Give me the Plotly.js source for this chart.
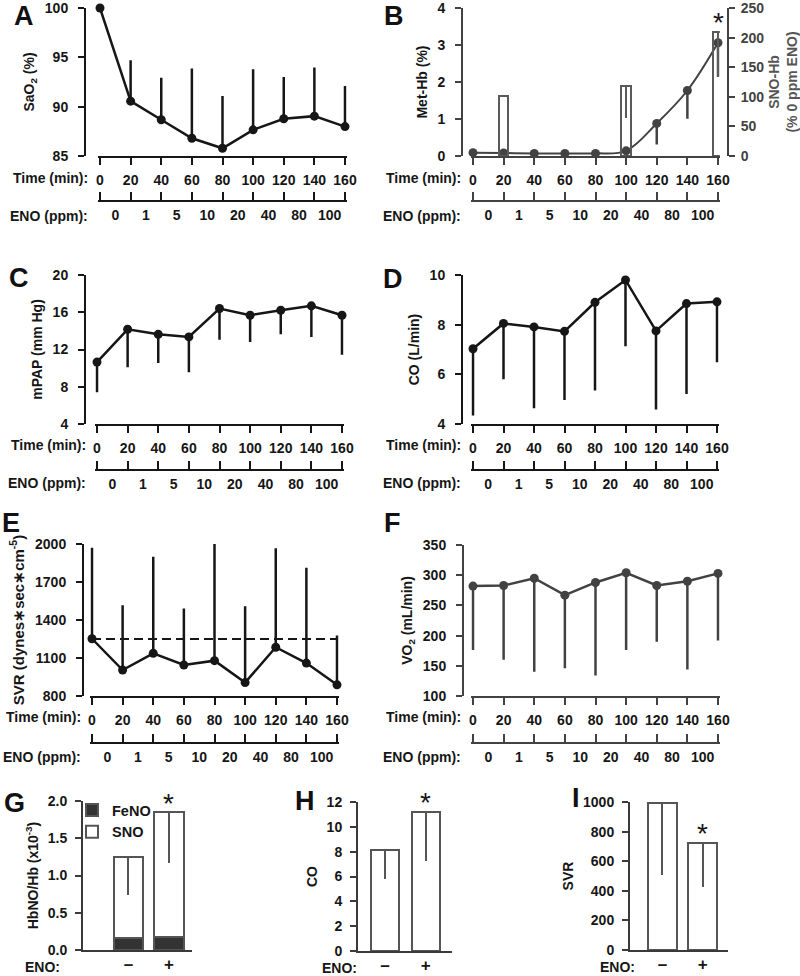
<!DOCTYPE html>
<html>
<head>
<meta charset="utf-8">
<script src="https://cdn.plot.ly/plotly-3.0.1.min.js"></script>
<style>html,body{margin:0;padding:0;background:#fff}#chart{width:800px;height:976px}</style>
</head>
<body>
<div id="chart"></div>
<script>
// ---------- data ----------
const timeMin = [0, 20, 40, 60, 80, 100, 120, 140, 160];
const enoPpm = ['0', '1', '5', '10', '20', '40', '80', '100'];

const saO2 = [100, 90.56, 88.67, 86.8, 85.78, 87.65, 88.77, 89.04, 87.98];
const saO2SdUp = [0, 4.14, 4.27, 7.06, 5.29, 6.14, 4.23, 4.92, 4.11];

const metHb = [0.09, 0.08, 0.07, 0.07, 0.07, 0.14, 0.88, 1.77, 3.06];
const metHbSdDown = [0, 0, 0, 0, 0, 0, 0.57, 0.76, 0.92];
const snoHbTime = [20, 100, 160];
const snoHb = [102, 119, 209];
const snoHbSdDown = [0, 54, 76];

const mpap = [10.65, 14.17, 13.63, 13.35, 16.4, 15.68, 16.22, 16.69, 15.68];
const mpapSdDown = [3.24, 4.07, 3.09, 3.78, 3.34, 2.88, 2.59, 3.34, 4.24];

const coL = [7.03, 8.05, 7.91, 7.73, 8.9, 9.8, 7.75, 8.85, 8.92];
const coSdDown = [2.69, 2.25, 3.28, 2.76, 3.55, 2.67, 3.17, 3.64, 2.43];

const svr = [1252, 1005, 1137, 1045, 1079, 906, 1185, 1060, 888];
const svrSdUp = [719, 511, 763, 445, 921, 602, 781, 752, 389];
const svrBaseline = 1250;

const vo2 = [282, 283, 295, 267, 288, 304, 283, 290, 303];
const vo2SdDown = [106, 123, 155, 121, 154, 128, 93, 146, 111];

const enoGroup = ['\u2013', '+'];
const hbnoFeNO = [0.16, 0.17];
const hbnoSNO = [1.09, 1.68];
const hbnoSdDown = [0.51, 0.68];
const coGroup = [8.1, 11.2];
const coGroupSdDown = [2.33, 3.95];
const svrGroup = [990, 720];
const svrGroupSdDown = [480, 293];

// ---------- helpers ----------
const W = 800, H = 976;
const px = v => v / W, py = v => 1 - v / H;
const FONT = '"Liberation Sans", Arial, Helvetica, sans-serif';
const INK = '#161616', GRAY = '#424242', EDGE = '#555555';
const tf = (s, c, w) => ({family: FONT, size: s || 14, color: c || INK, weight: w || 'bold'});
const axName = (k, n) => k + 'axis' + (n === 1 ? '' : n);
const axRef = (k, n) => k + (n === 1 ? '' : n);
const zeros = arr => arr.map(() => 0);
const enoMid = timeMin.slice(1).map((t, i) => (t + timeMin[i]) / 2);
const common = {showgrid: false, zeroline: false, fixedrange: true, ticklabeloverflow: 'allow'};
const PAD = 1.2; // tiny range padding (data units) so edge error bars are not clipped

const layout = {
  width: W, height: H,
  margin: {l: 0, r: 0, t: 0, b: 0, pad: 0},
  paper_bgcolor: '#ffffff', plot_bgcolor: 'rgba(0,0,0,0)',
  barmode: 'stack', hovermode: false,
  font: {family: FONT, color: INK},
  showlegend: true,
  legend: {x: px(72), y: py(794), xanchor: 'left', yanchor: 'top', font: tf(14.5),
           bgcolor: 'rgba(0,0,0,0)', traceorder: 'normal', itemwidth: 30, tracegroupgap: 0},
  annotations: []
};
const data = [];

function ann(text, x, y, o) {
  layout.annotations.push(Object.assign({text, x, y, xref: 'paper', yref: 'paper', showarrow: false,
    font: tf(14), xanchor: 'center', yanchor: 'middle'}, o || {}));
}

function linePanel(p) {
  const c = p.color;
  const ppu = (p.x1 - p.x0) / 160;
  const dom = [px(p.x0 - PAD * ppu), px(p.x1 + PAD * ppu)];
  const xr = [-PAD, 160 + PAD];
  layout[axName('x', p.xi)] = Object.assign({
    domain: dom, range: xr, anchor: axRef('y', p.yi),
    tickmode: 'array', tickvals: timeMin, ticktext: timeMin.map(String),
    ticks: 'outside', ticklen: 7, tickwidth: 2, tickcolor: c,
    showline: true, linewidth: 2, linecolor: c, tickfont: tf(14), ticklabelstandoff: 3
  }, common);
  layout[axName('y', p.yi)] = Object.assign({
    domain: [py(p.yBot), py(p.yTop)], range: p.yRange, anchor: 'free', position: px(p.yPx),
    tickmode: 'array', tickvals: p.yTicks,
    ticks: 'outside', ticklen: 6, tickwidth: 2, tickcolor: c,
    showline: true, linewidth: 2, linecolor: c, tickfont: tf(14), ticklabelstandoff: 7,
    title: {text: p.title, font: tf(p.titleSize || 14), standoff: p.ts || 6}
  }, common);
  // ENO schedule axis: tick marks (pointing up) at the time boundaries
  layout[axName('x', p.ei)] = Object.assign({
    domain: dom, range: xr, overlaying: axRef('x', p.xi), anchor: 'free', position: py(p.ePy),
    tickmode: 'array', tickvals: timeMin, ticks: 'inside', ticklen: 8, tickwidth: 2, tickcolor: c,
    showticklabels: false, showline: true, linewidth: 2, linecolor: c
  }, common);
  // ENO schedule axis: labels between boundaries
  layout[axName('x', p.li)] = Object.assign({
    domain: dom, range: xr, overlaying: axRef('x', p.xi), anchor: 'free', position: py(p.ePy),
    tickmode: 'array', tickvals: enoMid, ticktext: enoPpm, ticks: '', showline: false,
    tickfont: tf(14), ticklabelstandoff: 4
  }, common);
  [p.ei, p.li].forEach(n => data.push({type: 'scatter', x: timeMin, y: p.y, xaxis: axRef('x', n),
    yaxis: axRef('y', p.yi), mode: 'none', hoverinfo: 'skip', showlegend: false}));
  data.push({
    type: 'scatter', x: timeMin, y: p.y, xaxis: axRef('x', p.xi), yaxis: axRef('y', p.yi),
    mode: 'lines+markers', line: {color: c, width: p.lw || 2.5, shape: p.shape || 'linear'},
    marker: {size: 9, color: c}, cliponaxis: false, showlegend: false, hoverinfo: 'skip',
    error_y: {type: 'data', symmetric: false, array: p.up || zeros(p.y), arrayminus: p.down || zeros(p.y),
      width: 0, thickness: 2.5, color: c}
  });
  ann('Time (min):', px(p.labRight), py(p.timeLabPy), {xanchor: 'right'});
  ann('ENO (ppm):', px(p.labRight), py(p.enoLabPy), {xanchor: 'right'});
}

function barPanel(p) {
  layout[axName('x', p.xi)] = Object.assign({
    domain: [px(p.x0), px(p.x1)], range: p.xRange, type: 'category', categoryarray: enoGroup,
    anchor: axRef('y', p.yi), ticks: '', showline: true, linewidth: 2, linecolor: '#3a3a3a',
    tickfont: tf(17), ticklabelstandoff: -2
  }, common);
  layout[axName('y', p.yi)] = Object.assign({
    domain: [py(p.yBot), py(p.yTop)], range: p.yRange, anchor: axRef('x', p.xi),
    tickmode: 'array', tickvals: p.yTicks, tickformat: p.fmt || '',
    ticks: 'outside', ticklen: 6, tickwidth: 2, tickcolor: '#3a3a3a',
    showline: true, linewidth: 2, linecolor: '#3a3a3a', tickfont: tf(14), ticklabelstandoff: 5,
    title: {text: p.title, font: tf(14), standoff: p.ts || 6}
  }, common);
}

// ---------- panels A-F ----------
linePanel({xi: 1, ei: 2, li: 3, yi: 1, yPx: 85, x0: 100, x1: 345, yTop: 8, yBot: 156,
  yRange: [85, 100], yTicks: [85, 90, 95, 100], ePy: 201, timeLabPy: 178, enoLabPy: 216, labRight: 90,
  color: INK, title: 'SaO<sub>2</sub> (%)', y: saO2, up: saO2SdUp});

linePanel({xi: 4, ei: 5, li: 6, yi: 2, yPx: 462, x0: 473, x1: 718, yTop: 8, yBot: 156,
  yRange: [0, 4], yTicks: [0, 1, 2, 3, 4], ePy: 201, timeLabPy: 178, enoLabPy: 216, labRight: 463,
  color: GRAY, title: 'Met-Hb (%)', y: metHb, down: metHbSdDown, shape: 'spline', lw: 2});
layout.yaxis3 = Object.assign({
  overlaying: 'y2', side: 'right', anchor: 'free', position: px(728), range: [0, 250],
  tickmode: 'array', tickvals: [0, 50, 100, 150, 200, 250],
  ticks: 'outside', ticklen: 6, tickwidth: 2, tickcolor: GRAY,
  showline: true, linewidth: 2, linecolor: GRAY, tickfont: tf(14, GRAY), ticklabelstandoff: 3,
  title: {text: 'SNO-Hb<br>(% 0 ppm ENO)', font: tf(14, '#555'), standoff: 8}
}, common);
data.push({type: 'bar', x: snoHbTime, y: snoHb, xaxis: 'x4', yaxis: 'y3', width: 6.2,
  marker: {color: 'rgba(0,0,0,0)', line: {color: '#5a5a5a', width: 2}}, cliponaxis: false,
  showlegend: false, hoverinfo: 'skip',
  error_y: {type: 'data', symmetric: false, array: zeros(snoHb), arrayminus: snoHbSdDown,
    width: 0, thickness: 2, color: '#5a5a5a'}});
ann('*', 160, py(22), {xref: 'x4', font: tf(28, INK, 'normal')});

linePanel({xi: 7, ei: 8, li: 9, yi: 4, yPx: 85, x0: 97, x1: 342, yTop: 275, yBot: 424,
  yRange: [4, 20], yTicks: [4, 8, 12, 16, 20], ePy: 470, timeLabPy: 445, enoLabPy: 483, labRight: 88,
  color: INK, title: 'mPAP (mm Hg)', y: mpap, down: mpapSdDown});

linePanel({xi: 10, ei: 11, li: 12, yi: 5, yPx: 462, x0: 473, x1: 717, yTop: 275, yBot: 424,
  yRange: [4, 10], yTicks: [4, 6, 8, 10], ePy: 470, timeLabPy: 445, enoLabPy: 483, labRight: 463,
  color: INK, title: 'CO (L/min)', y: coL, down: coSdDown});

linePanel({xi: 13, ei: 14, li: 15, yi: 6, yPx: 83, x0: 92, x1: 337, yTop: 544, yBot: 696,
  yRange: [800, 2000], yTicks: [800, 1100, 1400, 1700, 2000], ePy: 743, timeLabPy: 717, enoLabPy: 757,
  labRight: 83, color: INK, title: 'SVR (dynes\u2217sec\u2217cm<sup>-5</sup>)', titleSize: 15, y: svr, up: svrSdUp});
data.push({type: 'scatter', x: [timeMin[0], timeMin[timeMin.length - 1]], y: [svrBaseline, svrBaseline],
  xaxis: 'x13', yaxis: 'y6', mode: 'lines', line: {color: INK, width: 2, dash: '9px,5px'},
  showlegend: false, hoverinfo: 'skip'});

linePanel({xi: 16, ei: 17, li: 18, yi: 7, yPx: 463, x0: 473, x1: 718, yTop: 545, yBot: 696,
  yRange: [100, 350], yTicks: [100, 150, 200, 250, 300, 350], ePy: 743, timeLabPy: 717, enoLabPy: 757,
  labRight: 463, color: GRAY, title: 'VO<sub>2</sub> (mL/min)', y: vo2, down: vo2SdDown});

// ---------- panels G-I ----------
barPanel({xi: 19, yi: 8, x0: 83, x1: 192, yTop: 801, yBot: 950, yRange: [0, 2],
  yTicks: [0, 0.5, 1, 1.5, 2], fmt: '.1f', xRange: [-1.123, 1.568], title: 'HbNO/Hb (x10<sup>-3</sup>)'});
data.push({type: 'bar', name: 'FeNO', x: enoGroup, y: hbnoFeNO, xaxis: 'x19', yaxis: 'y8', width: 0.72,
  marker: {color: '#333333', line: {color: EDGE, width: 2}}, hoverinfo: 'skip'});
data.push({type: 'bar', name: 'SNO', x: enoGroup, y: hbnoSNO, xaxis: 'x19', yaxis: 'y8', width: 0.72,
  marker: {color: '#ffffff', line: {color: EDGE, width: 2}}, hoverinfo: 'skip',
  error_y: {type: 'data', symmetric: false, array: zeros(hbnoSNO), arrayminus: hbnoSdDown,
    width: 0, thickness: 2, color: EDGE}});
ann('*', '+', py(803), {xref: 'x19', font: tf(28, INK, 'normal')});
ann('ENO:', px(62), py(967), {xanchor: 'right', font: tf(14)});

barPanel({xi: 20, yi: 9, x0: 358, x1: 452, yTop: 802, yBot: 951, yRange: [0, 12],
  yTicks: [0, 2, 4, 6, 8, 10, 12], xRange: [-0.662, 1.642], title: 'CO'});
data.push({type: 'bar', x: enoGroup, y: coGroup, xaxis: 'x20', yaxis: 'y9', width: 0.70,
  marker: {color: '#ffffff', line: {color: EDGE, width: 2}}, showlegend: false, hoverinfo: 'skip',
  error_y: {type: 'data', symmetric: false, array: zeros(coGroup), arrayminus: coGroupSdDown,
    width: 0, thickness: 2, color: EDGE}});
ann('*', '+', py(802), {xref: 'x20', font: tf(28, INK, 'normal')});
ann('ENO:', px(359), py(968), {xanchor: 'right', font: tf(14)});

barPanel({xi: 21, yi: 10, x0: 630, x1: 728, yTop: 802, yBot: 950, yRange: [0, 1000],
  yTicks: [0, 200, 400, 600, 800, 1000], xRange: [-0.806, 1.626], title: 'SVR'});
data.push({type: 'bar', x: enoGroup, y: svrGroup, xaxis: 'x21', yaxis: 'y10', width: 0.71,
  marker: {color: '#ffffff', line: {color: EDGE, width: 2}}, showlegend: false, hoverinfo: 'skip',
  error_y: {type: 'data', symmetric: false, array: zeros(svrGroup), arrayminus: svrGroupSdDown,
    width: 0, thickness: 2, color: EDGE}});
ann('*', '+', py(833), {xref: 'x21', font: tf(28, INK, 'normal')});
ann('ENO:', px(637), py(967), {xanchor: 'right', font: tf(14)});

// ---------- panel letters ----------
const letters = [['A', 12, 16], ['B', 382, 16], ['C', 7, 278], ['D', 381, 279],
                 ['E', 0, 523], ['F', 382, 523], ['G', 2, 803], ['H', 293, 801], ['I', 570, 798]];
letters.forEach(([t, x, y]) => ann(t, px(x), py(y), {xanchor: 'left', font: tf(27, '#111')}));

Plotly.newPlot('chart', data, layout, {staticPlot: true, displayModeBar: false});
</script>
</body>
</html>
